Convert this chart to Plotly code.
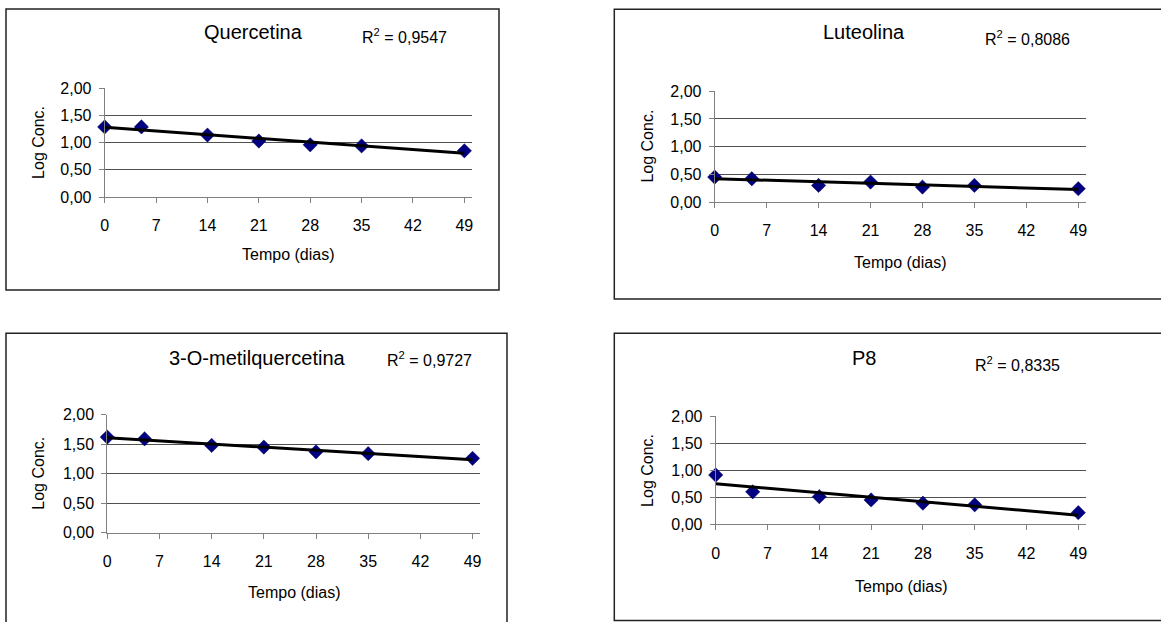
import numpy as np
import plotly.graph_objects as go

# ---------------- data ----------------
dias = [0, 5, 14, 21, 28, 35, 49]
titulos = ["Quercetina", "Luteolina", "3-O-metilquercetina", "P8"]
r2_textos = ["0,9547", "0,8086", "0,9727", "0,8335"]
quercetina = [1.29, 1.29, 1.14, 1.03, 0.96, 0.94, 0.85]
luteolina = [0.45, 0.42, 0.30, 0.36, 0.27, 0.30, 0.24]
metilquercetina = [1.62, 1.59, 1.48, 1.45, 1.37, 1.34, 1.26]
p8 = [0.91, 0.60, 0.51, 0.45, 0.39, 0.36, 0.215]
series = [quercetina, luteolina, metilquercetina, p8]
x_ticks = [0, 7, 14, 21, 28, 35, 42, 49]
y_ticks = [0, 0.5, 1.0, 1.5, 2.0]

W, H = 1161, 622
FONT = "Liberation Sans, Arial, sans-serif"

def fx(px):
    return px / W

def fy(py):
    return 1 - py / H

# layout geometry in pixels (left, right, top, bottom) of plot areas
plot_px = [
    (104.7, 471.7, 88.3, 197.0),
    (714.7, 1085.7, 91.3, 202.0),
    (107.3, 480.0, 414.7, 532.7),
    (715.7, 1085.7, 416.0, 524.3),
]
box_px = [
    (6, 499, 9, 290),
    (614.3, 1175, 9.3, 299),
    (6, 507, 333.3, 640),
    (614.3, 1175, 333.3, 620.5),
]
title_pos = [(253, 32), (864, 32.5), (257, 358), (864, 358)]
r2_pos = [(360, 36), (983, 37.5), (385, 359), (973, 364)]
ylab_pos = [(38.3, 142.6), (648, 146.6), (39, 473.7), (646.7, 470.2)]
xlab_pos = [(288.2, 254.5), (900.2, 262), (293.7, 592), (900.7, 586)]

fig = go.Figure()
shapes = []
annotations = []

for i in range(4):
    xa = "x" if i == 0 else f"x{i+1}"
    ya = "y" if i == 0 else f"y{i+1}"
    l, r, t, b = plot_px[i]
    key = "" if i == 0 else str(i + 1)
    fig.update_layout(**{
        f"xaxis{key}": dict(
            domain=[fx(l), fx(r)], range=[0, 50], anchor=ya,
            tickvals=x_ticks, showgrid=False, zeroline=False,
            showline=True, linecolor="#808080", linewidth=1,
            ticks="outside", ticklen=5, tickcolor="#808080",
            tickfont=dict(family=FONT, size=16, color="black"),
            ticklabelstandoff=9, fixedrange=True, automargin=False,
        ),
        f"yaxis{key}": dict(
            domain=[fy(b), fy(t)], range=[0, 2], anchor=xa,
            tickvals=y_ticks, tickformat=".2f",
            showgrid=True, gridcolor="#505050", gridwidth=1, zeroline=False,
            showline=True, linecolor="#808080", linewidth=1,
            ticks="outside", ticklen=5, tickcolor="#808080",
            tickfont=dict(family=FONT, size=16, color="black"),
            ticklabelstandoff=4, fixedrange=True, automargin=False,
        ),
    })
    yv = np.array(series[i], dtype=float)
    slope, intercept = np.polyfit(np.array(dias, dtype=float), yv, 1)
    xt = np.array([0.0, 49.0])
    fig.add_trace(go.Scatter(
        x=dias, y=series[i], mode="markers", xaxis=xa, yaxis=ya,
        marker=dict(symbol="diamond", size=11, color="#000080",
                    line=dict(width=0.5, color="#000050")),
        showlegend=False, hoverinfo="skip", cliponaxis=False,
    ))
    fig.add_trace(go.Scatter(
        x=xt, y=slope * xt + intercept, mode="lines", xaxis=xa, yaxis=ya,
        line=dict(color="black", width=3), showlegend=False, hoverinfo="skip",
    ))
    x0, x1, y0, y1 = box_px[i]
    shapes.append(dict(type="rect", xref="paper", yref="paper",
                       x0=fx(x0), x1=fx(x1), y0=fy(y1), y1=fy(y0),
                       line=dict(color="#222222", width=1.5), layer="below"))
    tx, ty = title_pos[i]
    annotations.append(dict(text=titulos[i], x=fx(tx), y=fy(ty), xref="paper", yref="paper",
                            xanchor="center", yanchor="middle", showarrow=False,
                            font=dict(family=FONT, size=20, color="black")))
    rx, ry = r2_pos[i]
    annotations.append(dict(text="R<sup>2</sup> = " + r2_textos[i], x=fx(rx), y=fy(ry),
                            xref="paper", yref="paper", xanchor="left", yanchor="middle",
                            showarrow=False, font=dict(family=FONT, size=16, color="black")))
    lx, ly = ylab_pos[i]
    annotations.append(dict(text="Log Conc.", x=fx(lx), y=fy(ly), xref="paper", yref="paper",
                            xanchor="center", yanchor="middle", textangle=-90, showarrow=False,
                            font=dict(family=FONT, size=16, color="black")))
    bx, by = xlab_pos[i]
    annotations.append(dict(text="Tempo (dias)", x=fx(bx), y=fy(by), xref="paper", yref="paper",
                            xanchor="center", yanchor="middle", showarrow=False,
                            font=dict(family=FONT, size=16, color="black")))

fig.update_layout(
    template="none",
    width=W, height=H, margin=dict(l=0, r=0, t=0, b=0, pad=0, autoexpand=False),
    paper_bgcolor="white", plot_bgcolor="white", showlegend=False,
    separators=",.", shapes=shapes, annotations=annotations,
    font=dict(family=FONT, color="black"),
)
fig.write_html(
    "out.html",
    config={"displayModeBar": False},
    post_script=(
        "document.documentElement.style.margin='0';"
        "document.body.style.margin='0';"
        "document.body.style.overflow='hidden';"
    ),
)
